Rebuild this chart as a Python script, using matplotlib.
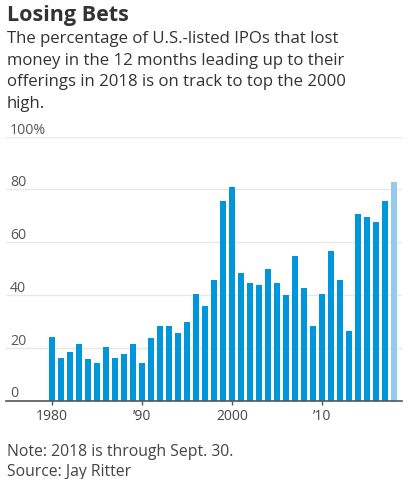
import matplotlib
matplotlib.use("Agg")
import matplotlib.pyplot as plt
import matplotlib.transforms as mtransforms

years = list(range(1980, 2019))
pct_losing = [24, 16.3, 18.5, 21.5, 15.6, 14.3, 20.4, 16.3, 17.6, 21.5,
              14.3, 23.7, 28.4, 28.4, 25.7, 29.7, 40.5, 35.7, 45.8, 75.7,
              80.9, 48.5, 44.7, 43.9, 49.9, 44.7, 39.9, 54.7, 42.7, 28.4,
              40.5, 56.7, 45.8, 26.5, 70.8, 69.7, 67.5, 75.7, 82.9]
y_ticks = [0, 20, 40, 60, 80, 100]
y_labels = ["0", "20", "40", "60", "80", "100%"]
x_ticks = [1980, 1990, 2000, 2010]
x_labels = ["1980", "\u201990", "2000", "\u201910"]

W, H = 408, 479
plt.rcParams["font.family"] = ["Open Sans", "DejaVu Sans"]

fig = plt.figure(figsize=(W / 100, H / 100), dpi=100)


def fy(px):
    return 1 - px / H


def fx(px):
    return px / W


ax = fig.add_axes([fx(6), fy(400.5), fx(396), (400.5 - 136.7) / H])

colors = ["#0096db"] * (len(years) - 1) + ["#96c9ee"]
ax.bar(years, pct_losing, width=0.74, color=colors, zorder=2)

ax.set_xlim(1974.9, 2018.9)
ax.set_ylim(0, 100)

ax.set_yticks(y_ticks)
ax.yaxis.grid(True, color="#e8e8e8", linewidth=1, zorder=0)
ax.tick_params(axis="y", length=0, labelleft=False)

# y labels sit just above their gridlines, at the left edge
trans = mtransforms.blended_transform_factory(ax.transAxes, ax.transData)
for v, lab in zip(y_ticks, y_labels):
    ax.text(4 / 396, v + 1.2, lab, transform=trans, ha="left",
            va="baseline", fontsize=10.2, color="#555555", zorder=3)

ax.set_xticks(x_ticks)
ax.set_xticklabels(x_labels, fontsize=10, color="#444444")
ax.tick_params(axis="x", length=3, width=1, color="#555555", pad=3)

for s in ["top", "right", "left"]:
    ax.spines[s].set_visible(False)
ax.spines["bottom"].set_color("#555555")
ax.spines["bottom"].set_linewidth(1.2)
ax.spines["bottom"].set_zorder(4)

fig.text(fx(7), fy(21), "Losing Bets", fontsize=15.5, fontweight="bold",
         color="#333333", va="baseline")
subtitle = ["The percentage of U.S.-listed IPOs that lost",
            "money in the 12 months leading up to their",
            "offerings in 2018 is on track to top the 2000",
            "high."]
for i, line in enumerate(subtitle):
    fig.text(fx(7), fy(43 + 21.7 * i), line, fontsize=12.1, color="#333333",
             va="baseline")

fig.text(fx(7), fy(456), "Note: 2018 is through Sept. 30.", fontsize=11.3,
         color="#444444", va="baseline")
fig.text(fx(7), fy(476), "Source: Jay Ritter", fontsize=11.3,
         color="#444444", va="baseline")

fig.savefig("out.png", dpi=100)
